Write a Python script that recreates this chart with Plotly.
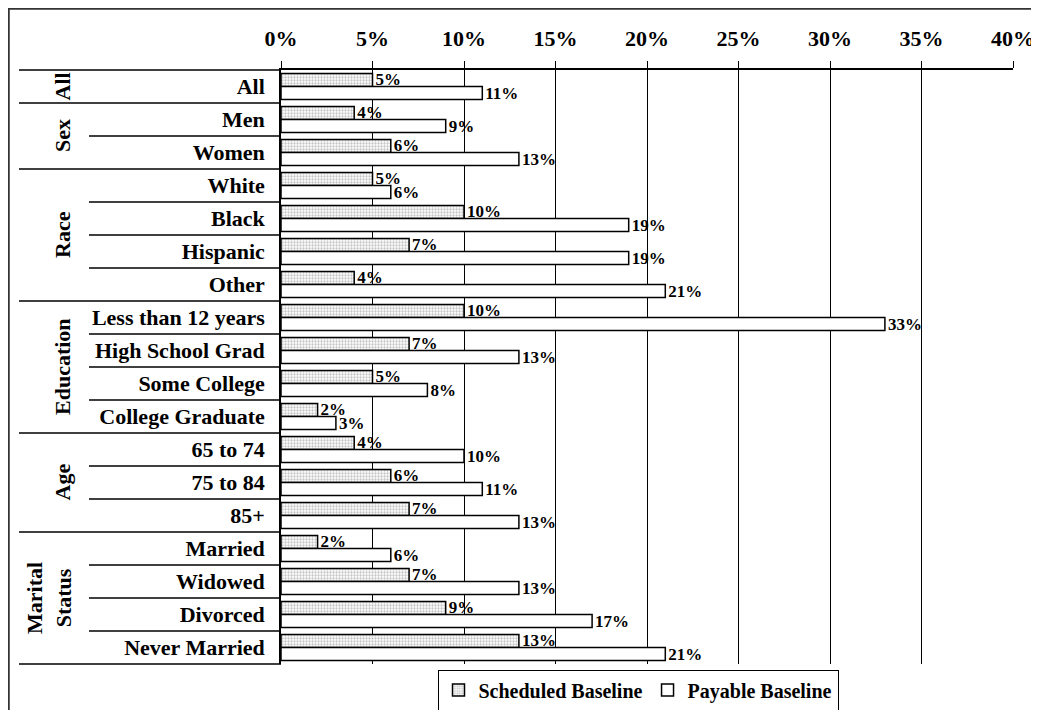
import plotly.graph_objects as go

# datos
categorias = ["All", "Men", "Women", "White", "Black", "Hispanic", "Other",
              "Less than 12 years", "High School Grad", "Some College", "College Graduate",
              "65 to 74", "75 to 84", "85+",
              "Married", "Widowed", "Divorced", "Never Married"]
grupos = ["All", "Sex", "Race", "Education", "Age", "Marital<br>Status"]
tam_grupos = [1, 2, 4, 4, 3, 4]
scheduled = [5, 4, 6, 5, 10, 7, 4, 10, 7, 5, 2, 4, 6, 7, 2, 7, 9, 13]
payable = [11, 9, 13, 6, 19, 19, 21, 33, 13, 8, 3, 10, 11, 13, 6, 13, 17, 21]

FUENTE = "Liberation Serif"
OFF = 8  # margen del body en la pagina
W, H = 1039, 710
# area de trazado en pixeles de pantalla
X0, X1, Y0, Y1 = 281, 1013, 70, 664
L, T = X0 - OFF, Y0 - OFF
pw, ph = X1 - X0, Y1 - Y0
R, B = W - L - pw, H - T - ph
n = len(categorias)

def px_a_x(px):
    return (px - X0) / pw

def px_a_y(py):
    return (Y1 - py) / ph

fig = go.Figure()
fig.add_trace(go.Bar(
    y=categorias, x=scheduled, orientation="h", name="Scheduled Baseline",
    marker=dict(color="white", line=dict(color="black", width=1.5),
                pattern=dict(shape=".", fgcolor="#8a8a8a", bgcolor="white", size=3, solidity=0.45)),
    texttemplate="%{x}", textposition="outside", cliponaxis=False, constraintext="none",
    textfont=dict(family=FUENTE, size=17, color="black", weight="bold"),
))
fig.add_trace(go.Bar(
    y=categorias, x=payable, orientation="h", name="Payable Baseline",
    marker=dict(color="white", line=dict(color="black", width=1.5)),
    texttemplate="%{x}", textposition="outside", cliponaxis=False, constraintext="none",
    textfont=dict(family=FUENTE, size=17, color="black", weight="bold"),
))

shapes = []
# separadores de filas y grupos
limites_grupo = [0]
for t in tam_grupos:
    limites_grupo.append(limites_grupo[-1] + t)
for k in range(n + 1):
    x0 = px_a_x(19) if k in limites_grupo else px_a_x(89)
    yk = 1 - k / n
    shapes.append(dict(type="line", xref="paper", yref="paper", x0=x0, x1=0, y0=yk, y1=yk,
                       line=dict(color="black", width=1.5)))
# marco exterior
shapes.append(dict(type="rect", xref="paper", yref="paper",
                   x0=px_a_x(OFF + 0.5), x1=px_a_x(1080), y0=px_a_y(760), y1=px_a_y(OFF + 0.5),
                   line=dict(color="#333333", width=2.5)))

annotations = []
for g, a, b in zip(grupos, limites_grupo[:-1], limites_grupo[1:]):
    yc = 1 - (a + b) / 2 / n
    xc = 49 if "<br>" in g else 62
    annotations.append(dict(text=g, xref="paper", yref="paper", x=px_a_x(xc), y=yc,
                            xanchor="center", yanchor="middle",
                            textangle=-90, showarrow=False,
                            font=dict(family=FUENTE, size=22, color="black", weight="bold")))

fig.update_layout(
    width=W, height=H,
    margin=dict(l=L, r=R, t=T, b=B, autoexpand=False),
    plot_bgcolor="white", paper_bgcolor="white",
    barmode="group", bargap=0.21, bargroupgap=0,
    shapes=shapes, annotations=annotations,
    font=dict(family=FUENTE, color="black"),
    legend=dict(orientation="h", x=px_a_x(638), xanchor="center", y=px_a_y(690), yanchor="middle",
                bordercolor="black", borderwidth=1, itemwidth=30,
                font=dict(family=FUENTE, size=20, color="black", weight="bold")),
    xaxis=dict(side="top", range=[0, 40], dtick=5, ticksuffix="%", automargin=False,
               showgrid=True, gridcolor="black", gridwidth=1, zeroline=False,
               showline=True, linecolor="black", linewidth=1.5,
               ticks="outside", ticklen=7, tickcolor="black", ticklabelstandoff=6,
               tickfont=dict(family=FUENTE, size=22, color="black", weight="bold")),
    yaxis=dict(autorange="reversed", showgrid=False, showline=True, linecolor="black", linewidth=1.5,
               ticks="", ticklabelstandoff=10, automargin=False,
               tickfont=dict(family=FUENTE, size=22, color="black", weight="bold")),
)

fig.write_html("out.html")
